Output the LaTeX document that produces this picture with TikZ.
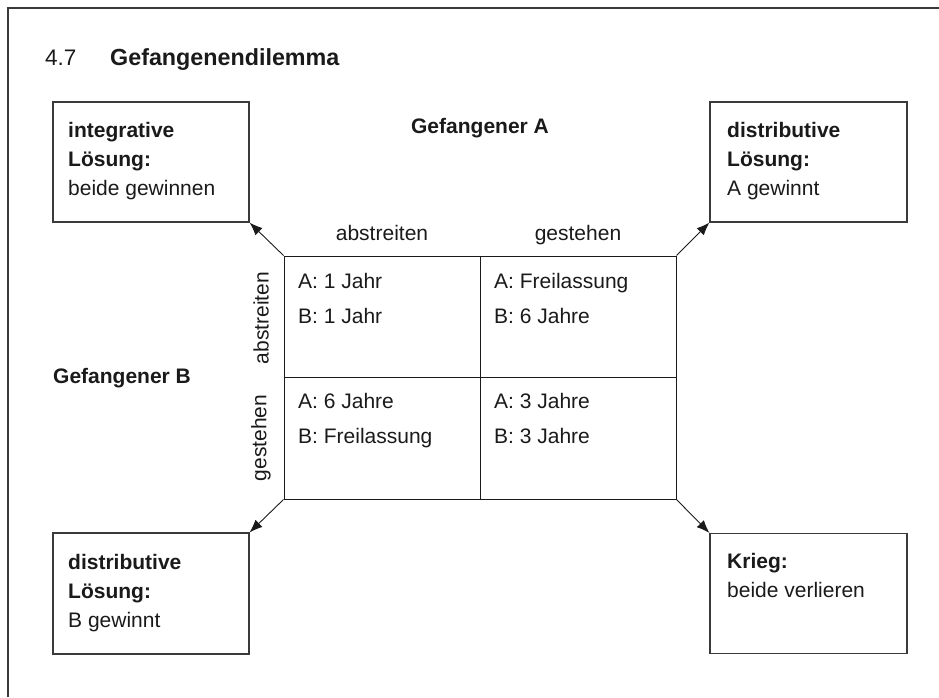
\documentclass[tikz,border=0pt]{standalone}
\usepackage{fontspec}
\setmainfont{Liberation Sans}
\usetikzlibrary{arrows.meta}
\definecolor{ink}{HTML}{1A1A1A}
\definecolor{frame}{HTML}{3A3A3A}
\tikzset{
  txt/.style={anchor=base west, inner sep=0pt, text=ink, font=\fontsize{21}{24}\selectfont},
  btxt/.style={txt, font=\fontsize{21}{24}\selectfont\bfseries},
  ctxt/.style={txt, anchor=base},
  box/.style={draw=frame, line width=1.1pt, minimum width=196pt, minimum height=120pt, inner sep=0pt},
  arr/.style={draw=ink, line width=0.9pt, -{Latex[length=13pt,width=10pt]}},
}
\begin{document}
\begin{tikzpicture}[x=1pt,y=-1pt]
\useasboundingbox (0,0) rectangle (939,697);
% outer frame (left and top only)
\draw[frame, line width=1.8pt] (8,697) -- (8,8) -- (939,8);
% title
\node[txt, font=\fontsize{22.5}{26}\selectfont] (num) at (45,65) {4.7};
\node[btxt, font=\fontsize{23.3}{26}\selectfont\bfseries] (title) at (110,65) {Gefangenendilemma};
% boxes
\node[box] (tl) at (151,162) {};
\node[box, minimum width=197pt] (tr) at (808.5,162) {};
\node[box, minimum height=121pt] (bl) at (151,593.5) {};
\node[box, minimum width=197pt] (br) at (808.5,593.5) {};
% box texts
\node[btxt] (tl1) at (68,137) {integrative};
\node[btxt] (tl2) at (68,166) {Lösung:};
\node[txt]  (tl3) at (68,195) {beide gewinnen};
\node[btxt] (tr1) at (727,137) {distributive};
\node[btxt] (tr2) at (727,166) {Lösung:};
\node[txt]  (tr3) at (727,195) {A gewinnt};
\node[btxt] (bl1) at (68,569) {distributive};
\node[btxt] (bl2) at (68,598) {Lösung:};
\node[txt]  (bl3) at (68,627) {B gewinnt};
\node[btxt] (br1) at (727,568) {Krieg:};
\node[txt]  (br2) at (727,597) {beide verlieren};
% players
\node[btxt, anchor=base] (pa) at (480,133) {Gefangener A};
\node[btxt] (pb) at (53,383) {Gefangener B};
% matrix
\node[draw=ink, line width=1pt, minimum width=392pt, minimum height=243pt, inner sep=0pt] (mat) at (480,377.5) {};
\draw[ink, line width=1pt] (mat.north) -- (mat.south);
\draw[ink, line width=1pt] (mat.west) -- (mat.east);
% column / row labels
\node[ctxt] (ca) at (382,240) {abstreiten};
\node[ctxt] (cg) at (578,240) {gestehen};
\node[txt, anchor=center, rotate=90] (ra) at (261,318) {abstreiten};
\node[txt, anchor=center, rotate=90] (rg) at (261,438) {gestehen};
% cells
\node[txt] (c11a) at (298,288) {A: 1 Jahr};
\node[txt] (c11b) at (298,323) {B: 1 Jahr};
\node[txt] (c12a) at (494,288) {A: Freilassung};
\node[txt] (c12b) at (494,323) {B: 6 Jahre};
\node[txt] (c21a) at (298,408) {A: 6 Jahre};
\node[txt] (c21b) at (298,443) {B: Freilassung};
\node[txt] (c22a) at (494,408) {A: 3 Jahre};
\node[txt] (c22b) at (494,443) {B: 3 Jahre};
% arrows
\draw[arr] (mat.north west) -- (tl.south east);
\draw[arr] (mat.north east) -- (tr.south west);
\draw[arr] (mat.south west) -- (bl.north east);
\draw[arr] (mat.south east) -- (br.north west);
\end{tikzpicture}
\end{document}
